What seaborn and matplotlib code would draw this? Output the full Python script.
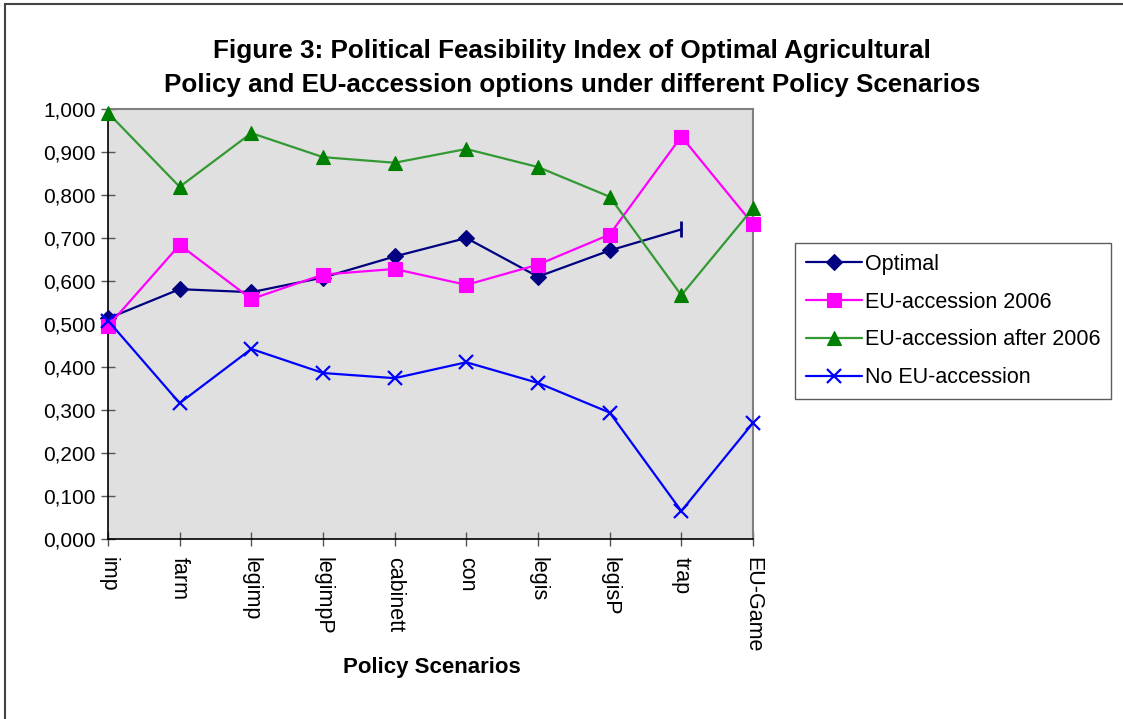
import matplotlib
matplotlib.use("Agg")
import matplotlib.pyplot as plt
import seaborn as sns
import pandas as pd
import numpy as np
from matplotlib.ticker import FuncFormatter, MultipleLocator

scenarios = ["imp", "farm", "legimp", "legimpP", "cabinett", "con",
             "legis", "legisP", "trap", "EU-Game"]

optimal = [0.513, 0.581, 0.574, 0.608, 0.657, 0.700, 0.610, 0.671, 0.720, np.nan]
eu_2006 = [0.495, 0.684, 0.558, 0.615, 0.628, 0.591, 0.638, 0.708, 0.936, 0.732]
eu_after_2006 = [0.991, 0.819, 0.944, 0.888, 0.875, 0.907, 0.865, 0.796, 0.567, 0.769]
no_eu = [0.508, 0.316, 0.442, 0.386, 0.374, 0.411, 0.363, 0.294, 0.065, 0.270]

series_names = ["Optimal", "EU-accession 2006", "EU-accession after 2006", "No EU-accession"]
series_values = [optimal, eu_2006, eu_after_2006, no_eu]

colors = {"Optimal": "#000080", "EU-accession 2006": "#FF00FF",
          "EU-accession after 2006": "#008000", "No EU-accession": "#0000FF"}
line_colors = {"Optimal": "#000080", "EU-accession 2006": "#FF00FF",
               "EU-accession after 2006": "#339933", "No EU-accession": "#0000FF"}
markers = {"Optimal": "D", "EU-accession 2006": "s",
           "EU-accession after 2006": "^", "No EU-accession": "x"}
msizes = {"Optimal": 8, "EU-accession 2006": 10,
          "EU-accession after 2006": 10, "No EU-accession": 10}

rows = []
for name, vals in zip(series_names, series_values):
    for i, v in enumerate(vals):
        rows.append({"pos": i, "scenario": scenarios[i], "series": name, "value": v})
df = pd.DataFrame(rows)

sns.set_theme(style="white")
plt.rcParams["font.family"] = ["Liberation Sans", "DejaVu Sans"]
plt.rcParams["text.color"] = "black"
plt.rcParams["axes.labelcolor"] = "black"
plt.rcParams["xtick.color"] = "black"
plt.rcParams["ytick.color"] = "black"

fig = plt.figure(figsize=(11.23, 7.19), dpi=100)
ax = fig.add_axes([108 / 1123, 1 - 539 / 719, 645 / 1123, 430 / 719])
ax.set_facecolor("#E0E0E0")

for name in series_names:
    sub = df[df["series"] == name].dropna()
    n = len(sub)
    # the Optimal series ends with a bar marker on its last point
    every = list(range(n - 1)) if name == "Optimal" else list(range(n))
    sns.lineplot(data=sub, x="pos", y="value", ax=ax, color=line_colors[name],
                 linewidth=1.6, marker=markers[name], markersize=msizes[name],
                 markerfacecolor=colors[name], markeredgecolor=colors[name],
                 markeredgewidth=1.6 if name == "No EU-accession" else 0.8,
                 markevery=every, clip_on=False, legend=False, zorder=3)
    if name == "Optimal":
        last = sub.iloc[-1]
        ax.plot([last["pos"]], [last["value"]], marker="|", markersize=12,
                markeredgewidth=2, color=colors[name], linestyle="none",
                clip_on=False, zorder=3)

ax.set_xlim(0, len(scenarios) - 1)
ax.set_ylim(0, 1.0)
ax.yaxis.set_major_locator(MultipleLocator(0.1))
ax.yaxis.set_major_formatter(FuncFormatter(lambda v, p: f"{v:.3f}".replace(".", ",")))
ax.set_xticks(range(len(scenarios)))
ax.set_xticklabels(scenarios, rotation=270, fontsize=15.5)
ax.tick_params(axis="y", labelsize=15, labelcolor="black", direction="inout",
               length=10, width=1, color="#555555", left=True, pad=4)
ax.tick_params(axis="x", labelcolor="black", direction="inout", length=10, width=1,
               color="#555555", bottom=True, pad=8)

for side in ["left", "bottom"]:
    ax.spines[side].set_color("black")
    ax.spines[side].set_linewidth(1.2)
for side in ["top", "right"]:
    ax.spines[side].set_color("#808080")
    ax.spines[side].set_linewidth(1.5)

ax.set_xlabel("Policy Scenarios", fontsize=16, fontweight="bold", color="black")
ax.xaxis.set_label_coords((432 - 108) / 645, (539 - 668) / 430)
ax.xaxis.label.set_va("center")
ax.set_ylabel("")

fig.text(572 / 1123, 1 - 68 / 719,
         "Figure 3: Political Feasibility Index of Optimal Agricultural\n"
         "Policy and EU-accession options under different Policy Scenarios",
         ha="center", va="center", fontsize=18.7, fontweight="bold",
         linespacing=1.5, color="black")

handles = [plt.Line2D([], [], color=line_colors[n], linewidth=1.6, marker=markers[n],
                      markersize=msizes[n], markerfacecolor=colors[n],
                      markeredgecolor=colors[n],
                      markeredgewidth=1.6 if n == "No EU-accession" else 0.8)
           for n in series_names]
leg = fig.legend(handles, series_names, loc="upper left",
                 bbox_to_anchor=(795 / 1123, 1 - 243 / 719), fontsize=15.5,
                 frameon=True, fancybox=False, shadow=False, handlelength=2.6,
                 labelspacing=0.78, borderpad=0.5, handletextpad=0.15,
                 borderaxespad=0)
leg.get_frame().set_edgecolor("#333333")
leg.get_frame().set_linewidth(1.0)
for t in leg.get_texts():
    t.set_color("black")

# outer chart frame (top and left edges visible)
frame = plt.Rectangle((5 / 1123, -0.05), 1.2, 1 - 4 / 719 + 0.05,
                      transform=fig.transFigure, fill=False,
                      edgecolor="#444444", linewidth=1.5)
fig.add_artist(frame)

fig.savefig("out.png", dpi=100)
